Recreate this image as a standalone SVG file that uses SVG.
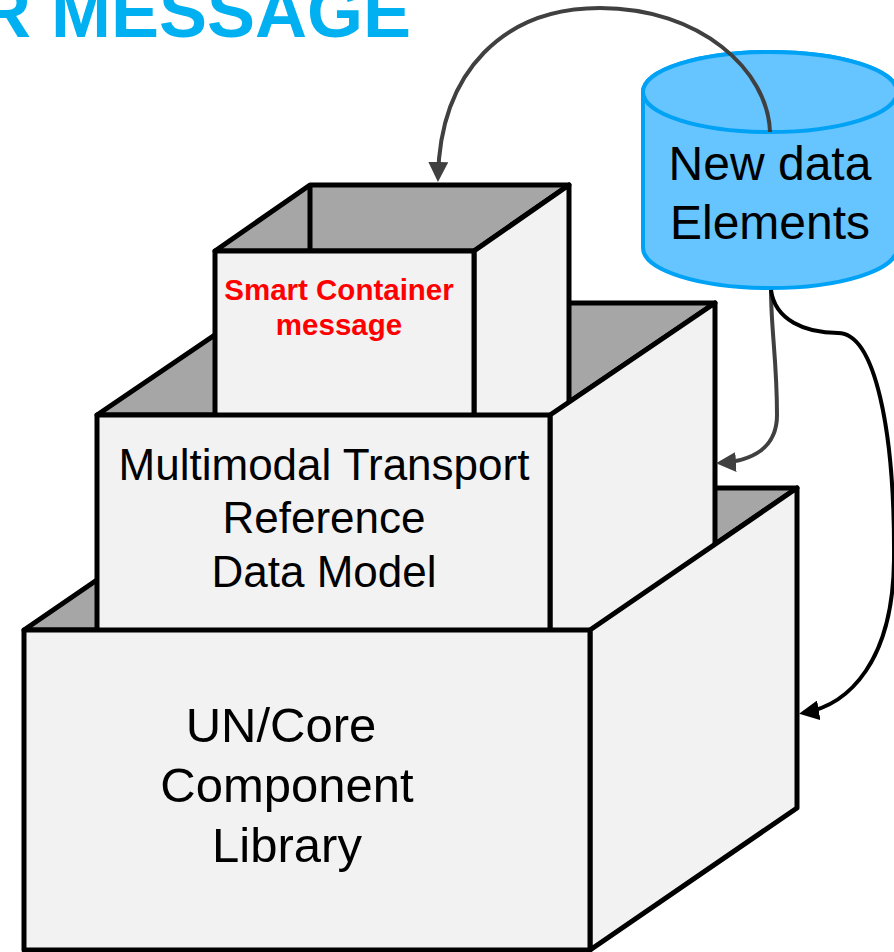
<svg xmlns="http://www.w3.org/2000/svg" width="894" height="952" viewBox="0 0 894 952">
<style>
.face{fill:#f2f2f2;stroke:#000;stroke-width:5;stroke-linejoin:round}
.inner{fill:#a6a6a6;stroke:#000;stroke-width:5;stroke-linejoin:round}
.edge{fill:none;stroke:#000;stroke-width:5}
.lbl{font-family:"Liberation Sans",Arial,sans-serif;fill:#000;text-anchor:middle}
.red{fill:#ff0000;font-weight:bold}
.conn{fill:none;stroke-width:4}
</style>
<defs>
<marker id="ahg" viewBox="0 0 10 10" refX="8" refY="5" markerWidth="5" markerHeight="5" orient="auto" markerUnits="strokeWidth"><path d="M0,0 L10,5 L0,10 z" fill="#404040"/></marker>
<marker id="ahb" viewBox="0 0 10 10" refX="8" refY="5" markerWidth="5" markerHeight="5" orient="auto" markerUnits="strokeWidth"><path d="M0,0 L10,5 L0,10 z" fill="#000"/></marker>
</defs>
<text x="411" y="37" text-anchor="end" font-family="Liberation Sans,Arial,sans-serif" font-weight="bold" font-size="72" fill="#00b0f0">R MESSAGE</text>
<g id="bottom-inner">
<polygon class="inner" points="24,630 231,488 797,488 590,630"/>
</g>
<g id="middle-inner">
<polygon class="inner" points="97,415 262,303 715,303 550,415"/>
</g>
<g id="smart-container">
<polygon class="inner" points="215,251 310,185 569,185 474,251"/>
<line class="edge" x1="310" y1="185" x2="310" y2="251"/>
<polygon class="face" points="474,251 569,185 569,440 474,506"/>
<rect class="face" x="215" y="251" width="259" height="200"/>
<text class="lbl red" x="339" y="300" font-size="29.5">Smart Container</text>
<text class="lbl red" x="339" y="335" font-size="29.5">message</text>
</g>
<g id="mmt-rdm">
<polygon class="face" points="550,415 715,303 715,580 550,692"/>
<rect class="face" x="97" y="415" width="453" height="240"/>
<text class="lbl" x="324" y="480" font-size="44">Multimodal Transport</text>
<text class="lbl" x="324" y="533" font-size="44">Reference</text>
<text class="lbl" x="324" y="587" font-size="44">Data Model</text>
</g>
<g id="un-ccl">
<polygon class="face" points="590,630 797,488 797,808 590,950"/>
<rect class="face" x="24" y="630" width="566" height="320"/>
<text class="lbl" x="281" y="742" font-size="49">UN/Core</text>
<text class="lbl" x="287" y="802" font-size="49">Component</text>
<text class="lbl" x="287" y="862" font-size="49">Library</text>
</g>
<g id="new-data-elements">
<path d="M643,92 L643,248 A127,40 0 0 0 897,248 L897,92 A127,40 0 0 0 643,92 Z" fill="#66c4ff" stroke="#00a2f5" stroke-width="4"/>
<ellipse cx="770" cy="92" rx="127" ry="40" fill="#66c4ff" stroke="#00a2f5" stroke-width="4"/>
<text class="lbl" x="770" y="180" font-size="48">New data</text>
<text class="lbl" x="770" y="239" font-size="48">Elements</text>
</g>
<g id="connectors">
<path class="conn" stroke="#404040" marker-end="url(#ahg)" d="M770,132 C768,70 700,8 600,8 C505,8 440,70 438,178"/>
<path class="conn" stroke="#404040" marker-end="url(#ahg)" d="M771,290 C771,330 777,360 777,415 C777,448 752,461 720,463"/>
<path class="conn" stroke="#000" marker-end="url(#ahb)" d="M771,290 C775,320 805,333 838,333 C875,333 895,430 894,560 C893,660 850,705 803,713"/>
</g>
</svg>
